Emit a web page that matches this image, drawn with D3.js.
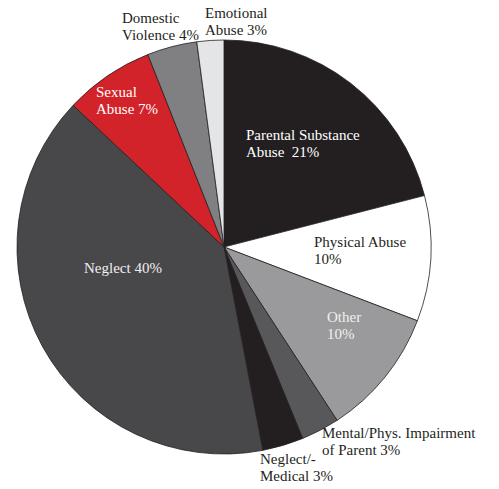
<!DOCTYPE html>
<html><head><meta charset="utf-8">
<script src="https://cdn.jsdelivr.net/npm/d3@7"></script>
<style>body{margin:0;background:#fff}svg{display:block}</style>
</head><body>
<svg id="c" width="499" height="489"></svg>
<script>
const categories = ["Parental Substance Abuse","Physical Abuse","Other","Mental/Phys. Impairment of Parent","Neglect/-Medical","Neglect","Sexual Abuse","Domestic Violence","Emotional Abuse"];
const values = [21, 9.8, 10, 3, 3.2, 40, 7, 3.9, 2.1];
const colors = ["#231f20","#ffffff","#9a9a9c","#58585a","#231f20","#48474a","#d2232a","#808083","#e4e5e6"];
const labelLines = [["Parental Substance","Abuse  21%"],["Physical Abuse","10%"],["Other","10%"],["Mental/Phys. Impairment","of Parent 3%"],["Neglect/-","Medical 3%"],["Neglect 40%"],["Sexual","Abuse 7%"],["Domestic","Violence 4%"],["Emotional","Abuse 3%"]];
const labelColors = ["#fff","#231f20","#f0f0f0","#231f20","#231f20","#f0f0f0","#fff","#231f20","#231f20"];
const labelPos = [[246,140],[314,247],[327,322],[322,438],[260,464],[84,273],[96,97],[122,23],[205,18]];

const svg = d3.select("#c");
const cx = 224, cy = 247, r = 207;
const pie = d3.pie().sort(null).value(d => d)(values);
const arc = d3.arc().innerRadius(0).outerRadius(r);
const g = svg.append("g").attr("transform", `translate(${cx},${cy})`);
g.selectAll("path").data(pie).join("path")
  .attr("d", arc)
  .attr("fill", (d,i) => colors[i])
  .attr("stroke", "#231f20")
  .attr("stroke-width", 0.8)
  .attr("stroke-linejoin", "round");

const lh = 17;
svg.selectAll("text.lab").data(categories).join("text")
  .attr("class","lab")
  .attr("x", (d,i) => labelPos[i][0])
  .attr("y", (d,i) => labelPos[i][1])
  .attr("fill", (d,i) => labelColors[i])
  .style("font-family", "'Liberation Serif','DejaVu Serif',serif")
  .style("font-size", "15px")
  .style("white-space", "pre")
  .each(function(d,i){
    const t = d3.select(this);
    labelLines[i].forEach((ln,j) => {
      t.append("tspan").attr("x", labelPos[i][0]).attr("dy", j===0?0:lh).text(ln);
    });
  });
</script>
</body></html>
